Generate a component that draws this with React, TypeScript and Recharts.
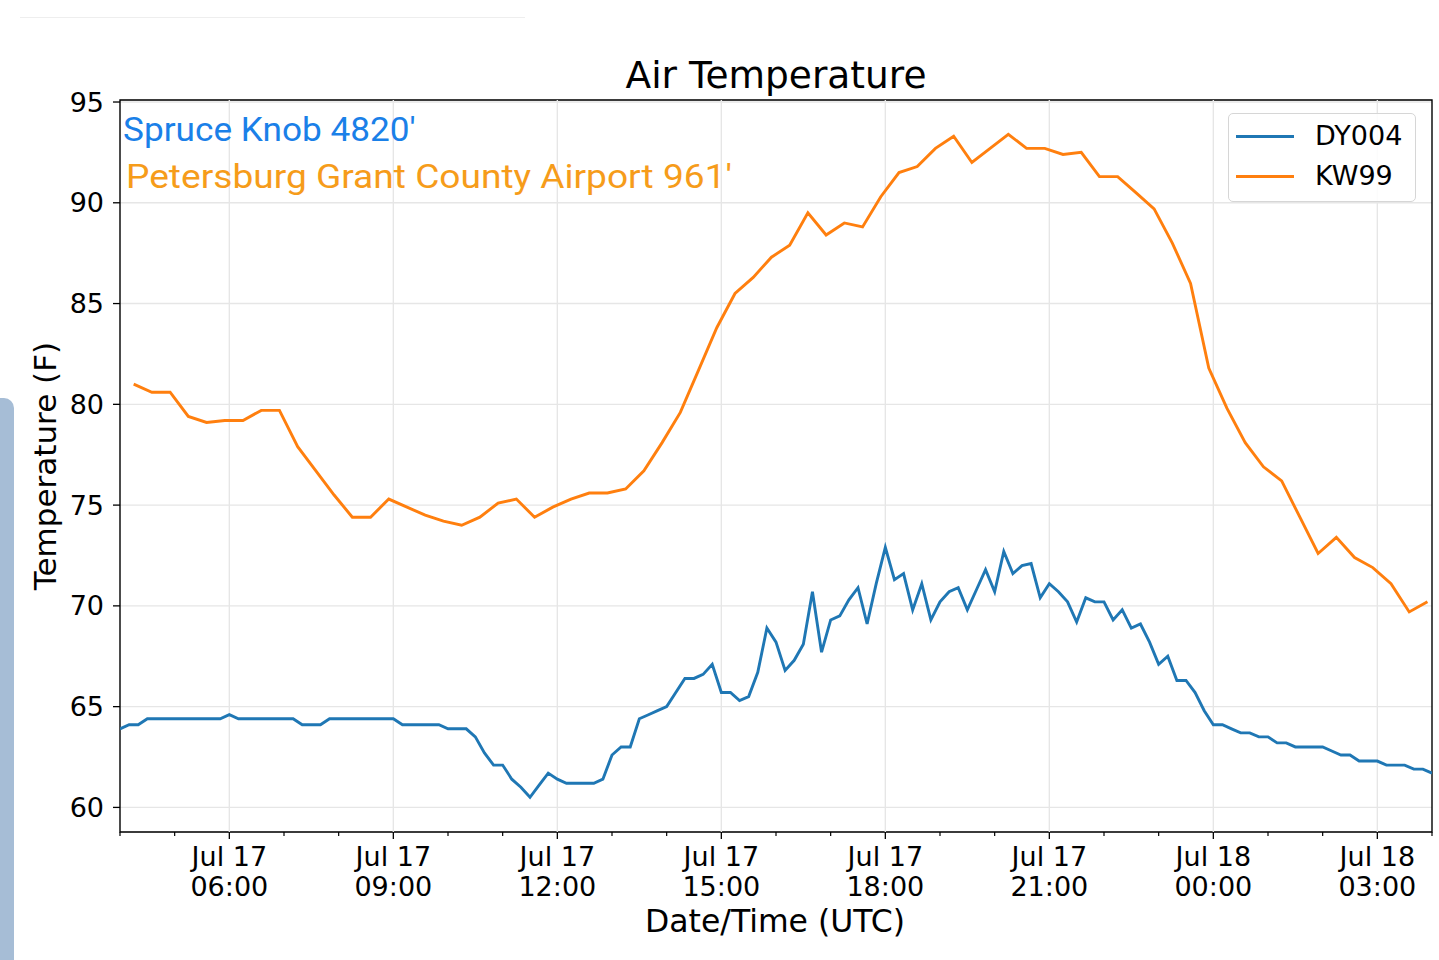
import {
  LineChart,
  Line,
  XAxis,
  YAxis,
  CartesianGrid,
  ReferenceLine,
  ReferenceArea,
} from "recharts";

// DY004 (Spruce Knob) every 10 minutes from Jul 17 04:00 UTC
const DY004_TEMPS = [
  63.9, 64.1, 64.1, 64.4, 64.4, 64.4, 64.4, 64.4, 64.4, 64.4, 64.4, 64.4,
  64.6, 64.4, 64.4, 64.4, 64.4, 64.4, 64.4, 64.4, 64.1, 64.1, 64.1, 64.4,
  64.4, 64.4, 64.4, 64.4, 64.4, 64.4, 64.4, 64.1, 64.1, 64.1, 64.1, 64.1,
  63.9, 63.9, 63.9, 63.5, 62.7, 62.1, 62.1, 61.4, 61.0, 60.5, 61.1, 61.7,
  61.4, 61.2, 61.2, 61.2, 61.2, 61.4, 62.6, 63.0, 63.0, 64.4, 64.6, 64.8,
  65.0, 65.7, 66.4, 66.4, 66.6, 67.1, 65.7, 65.7, 65.3, 65.5, 66.7, 68.9,
  68.2, 66.8, 67.3, 68.1, 70.7, 67.7, 69.3, 69.5, 70.3, 70.9, 69.1, 71.1,
  72.9, 71.3, 71.6, 69.8, 71.1, 69.3, 70.2, 70.7, 70.9, 69.8, 70.8, 71.8,
  70.7, 72.7, 71.6, 72.0, 72.1, 70.4, 71.1, 70.7, 70.2, 69.2, 70.4, 70.2,
  70.2, 69.3, 69.8, 68.9, 69.1, 68.2, 67.1, 67.5, 66.3, 66.3, 65.7, 64.8,
  64.1, 64.1, 63.9, 63.7, 63.7, 63.5, 63.5, 63.2, 63.2, 63.0, 63.0, 63.0,
  63.0, 62.8, 62.6, 62.6, 62.3, 62.3, 62.3, 62.1, 62.1, 62.1, 61.9, 61.9,
  61.7,
];

// KW99 (Petersburg Grant County Airport) every 20 minutes from 04:15 UTC
const KW99_TEMPS = [
  81.0, 80.6, 80.6, 79.4, 79.1, 79.2, 79.2, 79.7, 79.7, 77.9, 76.7, 75.5,
  74.4, 74.4, 75.3, 74.9, 74.5, 74.2, 74.0, 74.4, 75.1, 75.3, 74.4, 74.9,
  75.3, 75.6, 75.6, 75.8, 76.7, 78.1, 79.6, 81.7, 83.8, 85.5, 86.3, 87.3,
  87.9, 89.5, 88.4, 89.0, 88.8, 90.3, 91.5, 91.8, 92.7, 93.3, 92.0, 92.7,
  93.4, 92.7, 92.7, 92.4, 92.5, 91.3, 91.3, 90.5, 89.7, 88.0, 86.0, 81.8,
  79.8, 78.1, 76.9, 76.2, 74.4, 72.6, 73.4, 72.4, 71.9, 71.1, 69.7, 70.2,
];

const DY004_START = 0; // minutes after 04:00
const DY004_STEP = 10;
const KW99_START = 15;
const KW99_STEP = 20;

// x axis in minutes after Jul 17 04:00 UTC
const HOUR_TICKS = [
  0, 60, 120, 180, 240, 300, 360, 420, 480, 540, 600, 660, 720, 780, 840,
  900, 960, 1020, 1080, 1140, 1200, 1260, 1320, 1380, 1440,
];
const MAJOR_TICKS = [120, 300, 480, 660, 840, 1020, 1200, 1380];
const DATE_LABELS = ["Jul 17", "Jul 17", "Jul 17", "Jul 17", "Jul 17", "Jul 17", "Jul 18", "Jul 18"];
const TIME_LABELS = ["06:00", "09:00", "12:00", "15:00", "18:00", "21:00", "00:00", "03:00"];
const Y_TICKS = [60, 65, 70, 75, 80, 85, 90, 95];
const Y_DOMAIN: [number, number] = [58.78, 95.1];

const SERIES_NAMES = ["DY004", "KW99"];
const COLORS = ["#1f77b4", "#ff7f0e"];

const dyData = DY004_TEMPS.map((v, i) => ({ t: DY004_START + i * DY004_STEP, v }));
const kwData = KW99_TEMPS.map((v, i) => ({ t: KW99_START + i * KW99_STEP, v }));

const FONT = "'DejaVu Sans', sans-serif";

function TimeTick(props: any) {
  const { x, y, payload } = props;
  const idx = MAJOR_TICKS.indexOf(payload.value);
  if (idx < 0) {
    return <line x1={x} x2={x} y1={y} y2={y + 4} stroke="#000" strokeWidth={1.2} />;
  }
  return (
    <g>
      <line x1={x} x2={x} y1={y} y2={y + 7} stroke="#000" strokeWidth={1.3} />
      <text x={x} y={y + 34} textAnchor="middle" fontSize={27} fontFamily={FONT} fill="#000">
        {DATE_LABELS[idx]}
      </text>
      <text x={x} y={y + 64} textAnchor="middle" fontSize={27} fontFamily={FONT} fill="#000">
        {TIME_LABELS[idx]}
      </text>
    </g>
  );
}

export default function App() {
  return (
    <div style={{ position: "absolute", left: 0, top: 0, width: 1439, height: 960, background: "#fff" }}>
      <div style={{ position: "absolute", left: 20, top: 17, width: 505, height: 1, background: "#eeeeee" }} />
      <div
        style={{
          position: "absolute",
          left: 0,
          top: 398,
          width: 14,
          height: 562,
          background: "#a6bdd6",
          borderTopRightRadius: 10,
        }}
      />
      <LineChart width={1439} height={960} margin={{ top: 100, right: 7, bottom: 48, left: 60 }}>
        <CartesianGrid vertical={false} stroke="#e6e6e6" strokeWidth={1.4} />
        {MAJOR_TICKS.map((t) => (
          <ReferenceLine key={t} x={t} stroke="#e6e6e6" strokeWidth={1.4} />
        ))}
        <XAxis
          type="number"
          dataKey="t"
          domain={[0, 1440]}
          ticks={HOUR_TICKS}
          interval={0}
          allowDataOverflow
          height={80}
          tickSize={0}
          tickMargin={0}
          axisLine={false}
          tickLine={false}
          tick={<TimeTick />}
        />
        <YAxis
          type="number"
          domain={Y_DOMAIN}
          ticks={Y_TICKS}
          interval={0}
          allowDataOverflow
          width={60}
          axisLine={false}
          tickSize={7}
          tickMargin={9}
          tickLine={{ stroke: "#000", strokeWidth: 1.3 }}
          tick={{ fontSize: 27, fontFamily: FONT, fill: "#000" }}
        />
        <Line
          data={dyData}
          dataKey="v"
          name={SERIES_NAMES[0]}
          type="linear"
          stroke={COLORS[0]}
          strokeWidth={2.9}
          dot={false}
          isAnimationActive={false}
        />
        <Line
          data={kwData}
          dataKey="v"
          name={SERIES_NAMES[1]}
          type="linear"
          stroke={COLORS[1]}
          strokeWidth={2.9}
          dot={false}
          isAnimationActive={false}
        />
        <ReferenceArea
          x1={0}
          x2={1440}
          y1={Y_DOMAIN[0]}
          y2={Y_DOMAIN[1]}
          fill="none"
          fillOpacity={0}
          stroke="#000"
          strokeWidth={1.4}
        />
      </LineChart>

      <svg
        width={1439}
        height={960}
        style={{ position: "absolute", left: 0, top: 0, pointerEvents: "none" }}
      >
        <text x={776} y={88} textAnchor="middle" fontSize={37.5} fontFamily={FONT} fill="#000">
          Air Temperature
        </text>
        <text x={775} y={932} textAnchor="middle" fontSize={31.5} fontFamily={FONT} fill="#000">
          Date/Time (UTC)
        </text>
        <text
          x={0}
          y={0}
          transform="translate(56,466) rotate(-90)"
          textAnchor="middle"
          fontSize={31}
          fontFamily={FONT}
          fill="#000"
        >
          Temperature (F)
        </text>
        <text
          x={0}
          y={0}
          transform="translate(123,141) scale(1.035,1)"
          fontSize={34}
          fontFamily="Roboto, sans-serif"
          fill="#1a80e8"
        >
          Spruce Knob 4820'
        </text>
        <text
          x={0}
          y={0}
          transform="translate(126,188) scale(1.125,1)"
          fontSize={33}
          fontFamily="Roboto, sans-serif"
          fill="#f69c1a"
        >
          Petersburg Grant County Airport 961'
        </text>
      </svg>

      <div
        style={{
          position: "absolute",
          left: 1228,
          top: 113,
          width: 186,
          height: 87,
          border: "1.5px solid #d6d6d6",
          borderRadius: 5,
          background: "rgba(255,255,255,0.85)",
          fontFamily: FONT,
          fontSize: 27,
          color: "#000",
        }}
      >
        {SERIES_NAMES.map((name, i) => (
          <div
            key={name}
            style={{ position: "absolute", left: 7, top: 7 + i * 40, height: 30, display: "flex", alignItems: "center" }}
          >
            <span style={{ display: "inline-block", width: 58, height: 3, background: COLORS[i] }} />
            <span style={{ marginLeft: 21, lineHeight: "30px" }}>{name}</span>
          </div>
        ))}
      </div>
    </div>
  );
}
